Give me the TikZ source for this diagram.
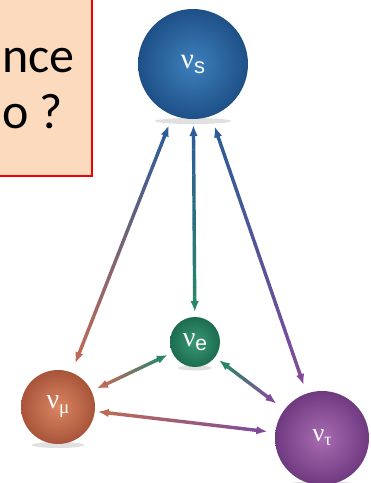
\documentclass[tikz,border=0pt]{standalone}
\usepackage{fontspec}
\setmainfont{Liberation Serif}
\newfontfamily\carl{Carlito}
\newfontfamily\lsans{Liberation Sans}
\usetikzlibrary{arrows.meta,calc}
\definecolor{boxfill}{RGB}{252,218,190}
\definecolor{boxred}{RGB}{240,0,0}
\definecolor{sIn}{RGB}{62,128,188}
\definecolor{sOut}{RGB}{30,80,135}
\definecolor{eIn}{RGB}{58,152,118}
\definecolor{eOut}{RGB}{28,108,80}
\definecolor{mIn}{RGB}{218,134,98}
\definecolor{mOut}{RGB}{168,84,58}
\definecolor{tIn}{RGB}{168,108,178}
\definecolor{tOut}{RGB}{112,58,128}
\definecolor{ablue}{RGB}{45,92,152}
\definecolor{agreen}{RGB}{40,132,106}
\definecolor{aorange}{RGB}{188,106,86}
\definecolor{apurple}{RGB}{128,76,152}
\tikzset{
  ball/.style={circle, inner sep=0pt, text=white},
  shadowell/.style={fill=black, opacity=0.12},
  boxtext/.style={anchor=base west, inner sep=0pt, font=\carl\fontsize{50}{58}\selectfont}
}
\newcommand\garrow[6]{%
  \coordinate (ga) at ($(#1)!#2!(#3)$);
  \coordinate (gb) at ($(#3)!#4!(#1)$);
  \coordinate (gaa) at ($(ga)!7pt!(gb)$);
  \coordinate (gbb) at ($(gb)!7pt!(ga)$);
  \foreach \i in {0,...,19}{%
    \pgfmathtruncatemacro\pc{100-\i*100/19}%
    \draw[line width=3.4pt, #5!\pc!#6] ($(gaa)!\i/20!(gbb)$) -- ($(gaa)!\i/20+0.052!(gbb)$);
  }
  \draw[-{Latex[length=11pt,width=8.5pt]}, line width=3.4pt, #5] ($(ga)!12pt!(gb)$) -- (ga);
  \draw[-{Latex[length=11pt,width=8.5pt]}, line width=3.4pt, #6] ($(gb)!12pt!(ga)$) -- (gb);
}
\begin{document}
\begin{tikzpicture}[x=1pt,y=-1pt]
\useasboundingbox (0,0) rectangle (371,483);
\fill[white] (0,0) rectangle (371,483);
% text box
\begin{scope}
\clip (0,0) rectangle (371,483);
\draw[boxred, line width=2.2pt, fill=boxfill] (-5,-5) rectangle (92,176);
\node[boxtext] (l1) at (2,72) {nce};
\node[boxtext] (l2) at (2,128) {o ?};
\end{scope}
% shadows
\fill[shadowell] (193,121) ellipse (38 and 3);
\fill[shadowell] (195,368) ellipse (17 and 2.5);
\fill[shadowell] (58,445) ellipse (26 and 3);
\fill[shadowell] (322,484) ellipse (32 and 3);
% balls
\node[ball, minimum size=110pt, inner color=sIn, outer color=sOut] (s) at (193,64)
  {\fontsize{29}{29}\selectfont ν\raisebox{-5pt}{\lsans\fontsize{22}{22}\selectfont s}};
\node[ball, minimum size=50pt, inner color=eIn, outer color=eOut] (e) at (195,342)
  {\fontsize{28}{28}\selectfont ν\raisebox{-4pt}{\lsans\fontsize{21}{21}\selectfont e}};
\node[ball, minimum size=74pt, inner color=mIn, outer color=mOut] (m) at (58,407)
  {\fontsize{28}{28}\selectfont ν\raisebox{-5pt}{\fontsize{19}{19}\selectfont μ}};
\node[ball, minimum size=94pt, inner color=tIn, outer color=tOut] (t) at (322,438)
  {\fontsize{26}{26}\selectfont ν\raisebox{-4pt}{\fontsize{18}{18}\selectfont τ}};
% arrows
\garrow{s}{66pt}{m}{47pt}{ablue}{aorange}
\garrow{s}{61pt}{e}{30pt}{ablue}{agreen}
\garrow{s}{66pt}{t}{56pt}{ablue}{apurple}
\garrow{e}{30pt}{m}{43pt}{agreen}{aorange}
\garrow{e}{30pt}{t}{57pt}{agreen}{apurple}
\garrow{m}{40pt}{t}{55pt}{aorange}{apurple}
\end{tikzpicture}
\end{document}
